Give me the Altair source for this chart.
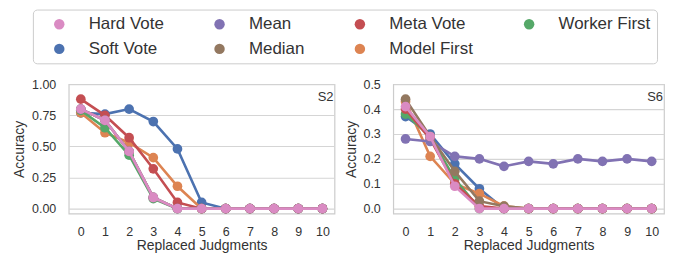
import altair as alt
import pandas as pd

steps = list(range(11))

# panel S2
soft_s2 = [0.77, 0.76, 0.80, 0.70, 0.48, 0.05, 0, 0, 0, 0, 0]
model_s2 = [0.77, 0.61, 0.53, 0.41, 0.18, 0.0, 0, 0, 0, 0, 0]
worker_s2 = [0.79, 0.65, 0.43, 0.08, 0.0, 0, 0, 0, 0, 0, 0]
meta_s2 = [0.88, 0.75, 0.57, 0.32, 0.05, 0.0, 0, 0, 0, 0, 0]
mean_s2 = [0.80, 0.71, 0.46, 0.09, 0.0, 0, 0, 0, 0, 0, 0]
median_s2 = [0.80, 0.71, 0.46, 0.09, 0.0, 0, 0, 0, 0, 0, 0]
hard_s2 = [0.80, 0.71, 0.46, 0.09, 0.0, 0, 0, 0, 0, 0, 0]

# panel S6
soft_s6 = [0.37, 0.30, 0.18, 0.08, 0.0, 0, 0, 0, 0, 0, 0]
model_s6 = [0.43, 0.21, 0.10, 0.06, 0.01, 0, 0, 0, 0, 0, 0]
worker_s6 = [0.38, 0.29, 0.12, 0.0, 0, 0, 0, 0, 0, 0, 0]
meta_s6 = [0.40, 0.28, 0.10, 0.01, 0.0, 0, 0, 0, 0, 0, 0]
mean_s6 = [0.28, 0.27, 0.21, 0.20, 0.17, 0.19, 0.18, 0.20, 0.19, 0.20, 0.19]
median_s6 = [0.44, 0.29, 0.15, 0.03, 0.01, 0, 0, 0, 0, 0, 0]
hard_s6 = [0.41, 0.29, 0.09, 0.0, 0, 0, 0, 0, 0, 0, 0]

draw_order = ["Soft Vote", "Model First", "Worker First", "Meta Vote", "Mean", "Median", "Hard Vote"]
colors = {"Soft Vote": "#4C72B0", "Model First": "#DD8452", "Worker First": "#55A868",
          "Meta Vote": "#C44E52", "Mean": "#8172B3", "Median": "#937860", "Hard Vote": "#DA8BC3"}
legend_order = ["Hard Vote", "Soft Vote", "Mean", "Median", "Meta Vote", "Model First", "Worker First"]

series_s2 = {"Soft Vote": soft_s2, "Model First": model_s2, "Worker First": worker_s2,
             "Meta Vote": meta_s2, "Mean": mean_s2, "Median": median_s2, "Hard Vote": hard_s2}
series_s6 = {"Soft Vote": soft_s6, "Model First": model_s6, "Worker First": worker_s6,
             "Meta Vote": meta_s6, "Mean": mean_s6, "Median": median_s6, "Hard Vote": hard_s6}

FONT = "Liberation Sans"
TXT = "#333333"

color_scale = alt.Scale(domain=legend_order, range=[colors[m] for m in legend_order])


def panel(series, label, ydomain, yticks, yfmt, w, h):
    rows = []
    for m, vals in series.items():
        for s, v in zip(steps, vals):
            rows.append({"method": m, "step": s, "acc": v})
    df = pd.DataFrame(rows)
    x = alt.X("step:Q", scale=alt.Scale(domain=[-0.5, 10.5], nice=False, zero=False),
              axis=alt.Axis(values=steps, title="Replaced Judgments", grid=False, ticks=False,
                            domain=False, labelPadding=12, titlePadding=1, format="d",
                            labelOverlap=False))
    y = alt.Y("acc:Q", scale=alt.Scale(domain=ydomain, nice=False, zero=False),
              axis=alt.Axis(values=yticks, title="Accuracy", format=yfmt, grid=True, ticks=False,
                            domain=False, labelPadding=13, titlePadding=5, labelOverlap=False))
    layers = []
    for m in draw_order:
        sub = df[df.method == m]
        base = alt.Chart(sub)
        line = base.mark_line(strokeWidth=2.6, clip=True).encode(x=x, y=y, color=alt.value(colors[m]))
        pts = base.mark_point(filled=True, size=95, opacity=1, clip=True).encode(
            x=x, y=y,
            color=alt.Color("method:N", scale=color_scale, legend=alt.Legend(
                title=None, orient="none", legendX=-36, legendY=-75, columns=4,
                symbolType="circle", symbolSize=110, symbolStrokeWidth=0,
                labelFontSize=17, labelFont=FONT, labelColor=TXT, labelOffset=21,
                columnPadding=35, rowPadding=7, padding=6, symbolOffset=12,
                strokeColor="#cccccc", cornerRadius=4, fillColor="white")))
        layers += [line, pts]
    txt = alt.Chart(pd.DataFrame({"t": [label]})).mark_text(
        align="right", baseline="middle", fontSize=13, font=FONT, color=TXT
    ).encode(text="t:N", x=alt.value(w - 1), y=alt.value(13))
    layers.append(txt)
    return alt.layer(*layers).properties(width=w, height=h)


left = panel(series_s2, "S2", [-0.04, 1.0], [0, 0.25, 0.5, 0.75, 1.0], ".2f", 267, 130)
right = panel(series_s6, "S6", [-0.02, 0.5], [0, 0.1, 0.2, 0.3, 0.4, 0.5], ".1f", 272, 130)

chart = alt.hconcat(left, right, spacing=8).properties(
    padding={"left": 4, "top": 0, "right": 0, "bottom": 0}
).configure_view(stroke="#cccccc", strokeWidth=1.2).configure_axis(
    labelFont=FONT, titleFont=FONT, labelFontSize=12.5, titleFontSize=14,
    labelColor=TXT, titleColor=TXT, titleFontWeight="normal", gridColor="#d5d5d5", gridWidth=1.1
)

chart.save("out.html", embed_options={"renderer": "svg", "actions": False})
